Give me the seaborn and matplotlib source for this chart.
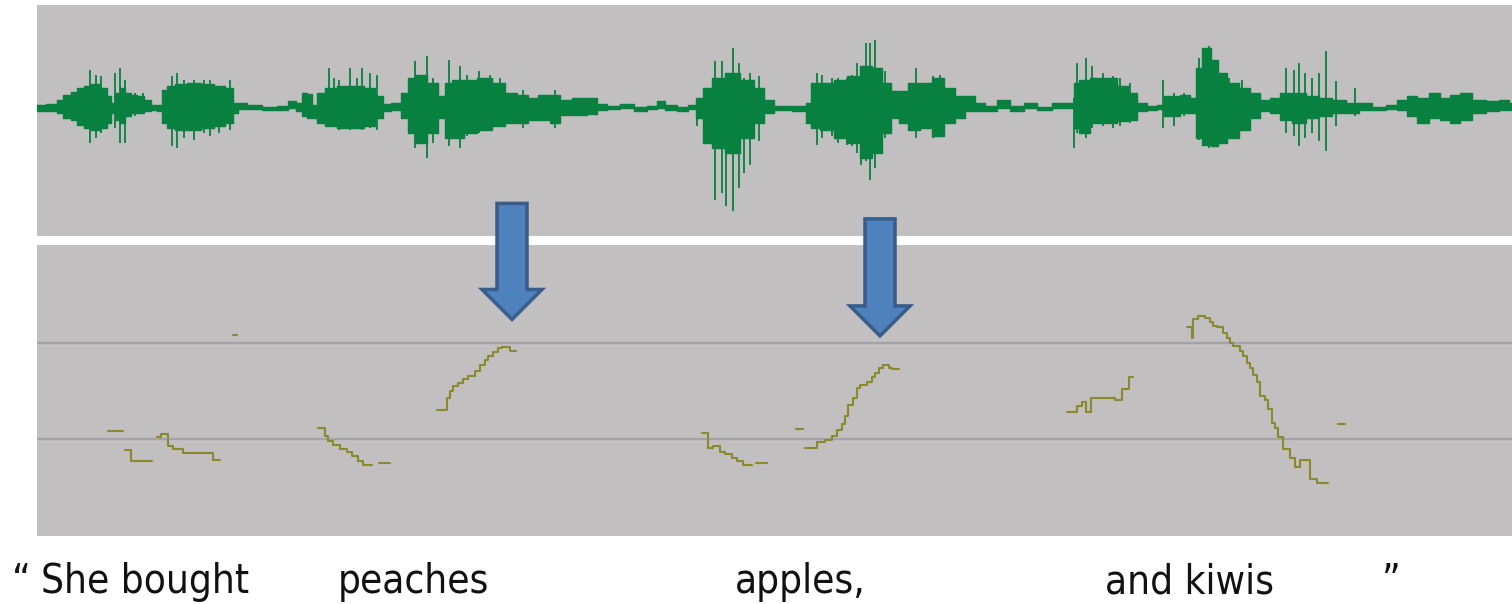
import numpy as np
import pandas as pd
import matplotlib
matplotlib.use("Agg")
import matplotlib.pyplot as plt
import matplotlib.transforms as mtransforms
import seaborn as sns
from matplotlib.patches import FancyArrow

sns.set_theme(style="white")
plt.rcParams['font.family'] = ['DejaVu Sans']

# waveform envelope (frame, amplitude above / below zero)
env_frame = [0, 17, 22, 30, 37, 43, 50, 58, 67, 72, 75, 80, 85, 90, 97, 103, 110, 117, 122, 127,
             133, 143, 157, 170, 183, 193, 198, 203, 217, 233, 247, 255, 262, 267, 272, 277, 283,
             293, 307, 320, 333, 343, 348, 360, 368, 373, 383, 396, 405, 410, 420, 433, 446, 463,
             473, 486, 496, 506, 520, 526, 543, 556, 563, 576, 590, 603, 616, 623, 633, 646, 656,
             661, 670, 680, 696, 710, 723, 730, 743, 766, 771, 776, 790, 803, 816, 830, 840, 850,
             858, 866, 876, 890, 900, 913, 923, 933, 943, 953, 966, 980, 993, 1006, 1023, 1035,
             1038, 1046, 1060, 1073, 1086, 1095, 1105, 1115, 1125, 1128, 1138, 1148, 1157, 1160,
             1170, 1177, 1185, 1195, 1208, 1218, 1228, 1238, 1248, 1262, 1275, 1288, 1302, 1315,
             1328, 1342, 1355, 1365, 1375, 1385, 1398, 1408, 1418, 1428, 1442, 1455, 1468, 1475]
env_up = [3, 4, 8, 13, 16, 20, 22, 24, 20, 12, 5, 15, 20, 15, 13, 12, 8, 3, 3, 18,
          22, 24, 25, 24, 22, 20, 5, 5, 3, 1, 2, 7, 5, 15, 14, 3, 15,
          20, 22, 22, 20, 12, 4, 5, 15, 30, 33, 25, 12, 25, 28, 28, 30, 25,
          15, 13, 10, 13, 13, 8, 10, 10, 4, 2, 4, 1, 2, 7, 3, 1, 3,
          10, 20, 30, 35, 28, 20, 8, 2, 2, 5, 25, 25, 28, 32, 42, 40, 25,
          17, 17, 25, 25, 30, 20, 12, 12, 5, 2, 8, 2, 5, 1, 5, 5,
          25, 28, 30, 30, 22, 15, 5, 2, 3, 12, 12, 13, 10, 40,
          60, 48, 35, 25, 20, 15, 8, 10, 15, 15, 12, 10, 8, 5,
          5, 1, 3, 8, 12, 10, 15, 10, 13, 15, 8, 7, 8, 5]
env_down = [3, 3, 5, 10, 12, 17, 20, 22, 20, 15, 5, 12, 15, 8, 5, 5, 3, 2, 3, 15,
            20, 22, 22, 20, 18, 15, 5, 1, 1, 2, 2, 0, 3, 8, 10, 10, 15,
            18, 20, 20, 18, 10, 3, 2, 10, 25, 35, 25, 10, 30, 30, 25, 22, 18,
            15, 15, 12, 12, 15, 7, 7, 6, 2, 1, 0, 3, 1, 0, 2, 3, 1,
            10, 35, 40, 45, 30, 15, 5, 2, 3, 15, 20, 22, 30, 35, 50, 45, 25,
            10, 15, 22, 20, 28, 15, 10, 3, 3, 3, 0, 3, 0, 2, 0, 0,
            20, 25, 15, 15, 13, 12, 3, 2, 1, 8, 8, 5, 5, 30,
            37, 38, 35, 30, 22, 10, 3, 5, 12, 15, 10, 8, 5, 5,
            2, 2, 1, 2, 8, 15, 10, 12, 15, 12, 5, 3, 2, 2]

# single peaks sticking out of the envelope
spike_frame = [53, 59, 64, 78, 83, 88, 98, 106, 135, 140, 147, 157, 167, 173, 182, 193,
               292, 297, 302, 313, 320, 325, 333, 340, 378, 390, 396, 412, 423, 430, 442,
               453, 463, 486, 518, 660, 678, 685, 689, 696, 702, 707, 713, 722, 726, 780,
               785, 795, 801, 810, 815, 820, 824, 829, 833, 838, 845, 848, 879, 896, 903,
               1037, 1040, 1049, 1055, 1066, 1076, 1083, 1093, 1126, 1137, 1147, 1162, 1172,
               1192, 1205, 1249, 1257, 1262, 1268, 1275, 1282, 1289, 1299, 1318, 1398, 1425]
spike_up = [38, 33, 32, 35, 40, 28, 15, 15, 32, 35, 28, 28, 28, 28, 22, 28,
            40, 30, 28, 40, 30, 40, 35, 33, 47, 52, 30, 48, 42, 33, 37,
            33, 30, 18, 18, 5, 47, 47, 35, 60, 45, 30, 35, 32, 17, 35,
            33, 30, 30, 30, 33, 45, 35, 65, 65, 68, 35, 37, 40, 32, 33,
            10, 45, 50, 42, 35, 32, 30, 25, 28, 15, 15, 50, 62,
            30, 28, 40, 38, 45, 35, 30, 35, 57, 27, 20, 13, 12]
spike_down = [35, 30, 25, 20, 35, 35, 8, 5, 38, 40, 30, 32, 25, 28, 25, 22,
              15, 18, 22, 22, 20, 22, 20, 22, 40, 50, 35, 38, 40, 28, 25,
              22, 18, 20, 20, 18, 92, 85, 98, 103, 80, 65, 57, 33, 12, 37,
              30, 28, 35, 37, 38, 45, 57, 53, 72, 60, 40, 30, 30, 30, 28,
              40, 25, 30, 20, 18, 20, 18, 15, 20, 18, 8, 32, 40,
              30, 22, 25, 28, 38, 30, 25, 33, 43, 18, 8, 10, 12]

# pitch track, Hz, one list per voiced stretch
pitch_frames = [
    [71, 86],
    [88, 94, 115],
    [120, 124, 131, 136, 146, 176, 183],
    [196, 200],
    [281, 288, 291, 296, 303, 310, 315, 321, 326, 335],
    [342, 353],
    [400, 410, 413, 416, 421, 426, 431, 438, 443, 448, 451, 456, 461, 465, 473, 479],
    [665, 671, 676, 683, 688, 695, 700, 706, 715],
    [719, 730],
    [759, 766],
    [768, 780, 788, 795, 800, 805, 808, 811, 816, 820, 823, 830, 835, 838, 842, 846, 852, 855, 862],
    [1030, 1040, 1045, 1049, 1054, 1078, 1085, 1092, 1096],
    [1150, 1155, 1156, 1161, 1168, 1173, 1176, 1180, 1186, 1190, 1193, 1196, 1203, 1206, 1210,
     1213, 1216, 1220, 1223, 1228, 1231, 1235, 1238, 1241, 1246, 1253, 1258, 1263, 1273, 1280, 1291],
    [1301, 1308],
]
pitch_hz = [
    [109, 109],
    [89, 78, 78],
    [102, 106, 93, 90, 86, 79, 79],
    [208, 208],
    [112, 103, 98, 94, 90, 87, 83, 78, 73, 73],
    [75, 75],
    [130, 143, 150, 155, 158, 162, 165, 171, 177, 182, 186, 190, 194, 196, 191, 191],
    [107, 91, 93, 87, 85, 81, 78, 73, 73],
    [75, 75],
    [111, 111],
    [91, 97, 99, 103, 110, 116, 124, 136, 143, 153, 156, 159, 164, 169, 174, 177, 174, 173, 173],
    [128, 134, 139, 128, 143, 141, 152, 164, 164],
    [216, 205, 224, 228, 226, 221, 217, 216, 210, 205, 200, 197, 191, 186, 179,
     174, 167, 159, 145, 141, 131, 117, 112, 102, 90, 81, 71, 79, 59, 55, 55],
    [116, 116],
]

words = ["\u201c", "She bought", "peaches", "apples,", "and kiwis", "\u201d"]
word_frame = [-25, 4, 301, 698, 1068, 1345]

# arrows pointing at the pitch peaks
arrow_frame = [475, 843]
arrow_top = [344, 328]
arrow_tip = [224, 207]

panel = "#c1bfc0"
green = "#08803f"
olive = "#8a8a2c"

fig = plt.figure(figsize=(15.12, 6.04), dpi=100)
ax1 = fig.add_axes([37 / 1512, 368 / 604, 1475 / 1512, 231 / 604])
ax2 = fig.add_axes([37 / 1512, 68 / 604, 1475 / 1512, 291 / 604])

# waveform
ax1.set_facecolor(panel)
up = np.array(env_up)
down = -np.array(env_down)
ax1.fill_between(env_frame, up, down, color=green, lw=1.0, step="mid")
ax1.vlines(spike_frame, -np.array(spike_down), spike_up, color=green, lw=1.3)
ax1.set_xlim(0, 1475)
ax1.set_ylim(-128, 103)

# pitch
ax2.set_facecolor(panel)
rows = []
for i, (fr, hz) in enumerate(zip(pitch_frames, pitch_hz)):
    for f, h in zip(fr, hz):
        rows.append({"frame": f, "f0": h, "seg": i})
df = pd.DataFrame(rows)
for g in [100, 200]:
    ax2.axhline(g, color="#a2a2a7", lw=1.6, zorder=1)
sns.lineplot(data=df, x="frame", y="f0", units="seg", estimator=None, sort=False,
             drawstyle="steps-post", color=olive, lw=1.5, ax=ax2, zorder=3)
ax2.set_xlim(0, 1475)
ax2.set_ylim(0, 301)

for ax in (ax1, ax2):
    ax.set_xticks([])
    ax.set_yticks([])
    ax.set_xlabel("")
    ax.set_ylabel("")
    for s in ax.spines.values():
        s.set_visible(False)

for x, top, tip in zip(arrow_frame, arrow_top, arrow_tip):
    arr = FancyArrow(x, top, 0, tip - top, width=30, head_width=60, head_length=31,
                     length_includes_head=True, fc="#4f81bd", ec="#385d8a", lw=2.5,
                     clip_on=False, zorder=10)
    ax2.add_patch(arr)

trans = mtransforms.blended_transform_factory(ax2.transData, fig.transFigure)
for w, x in zip(words, word_frame):
    ax2.text(x, 11 / 604, w, transform=trans, fontsize=29, fontstretch="condensed",
             color="#111111", ha="left", va="baseline", clip_on=False)

fig.savefig("out.png", dpi=100)
